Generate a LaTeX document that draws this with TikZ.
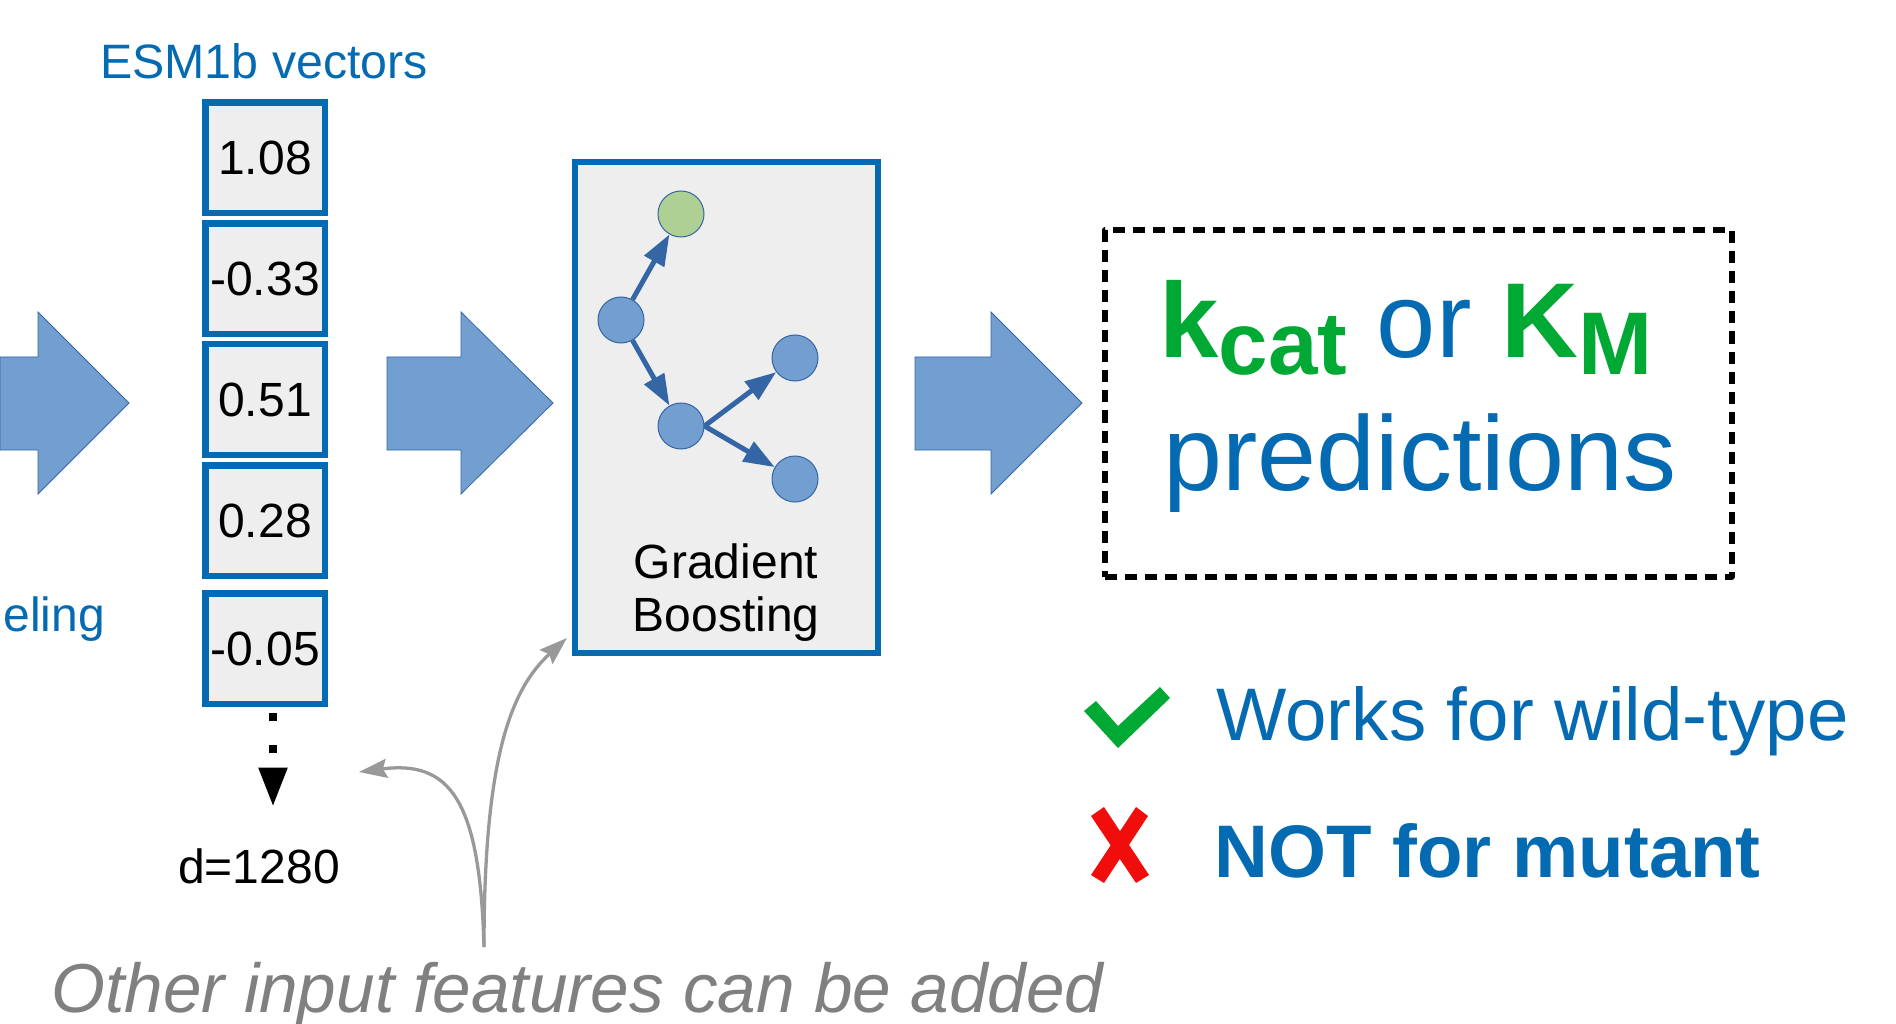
\documentclass[tikz,border=0pt]{standalone}
\usepackage{fontspec}
\setmainfont{Liberation Sans}
\usepackage{tikz}
\usetikzlibrary{
    arrows.meta,
    positioning,
    calc
}
\definecolor{esmblue}{RGB}{4, 106, 178}
\definecolor{arrowblue}{RGB}{114, 159, 207}
\definecolor{treeblue}{RGB}{52, 101, 164}
\definecolor{leafgreen}{RGB}{175, 208, 149}
\definecolor{okgreen}{RGB}{0, 169, 51}
\definecolor{nored}{RGB}{241, 13, 12}
\definecolor{cellgray}{RGB}{238, 238, 238}
\definecolor{notegray}{RGB}{128, 128, 128}
\definecolor{linegray}{RGB}{153, 153, 153}
\newcommand{\fsz}[1]{\fontsize{#1}{#1}\selectfont}
\tikzstyle{vecbox} = [
    draw=esmblue,
    line width=6.5pt,
    fill=cellgray,
    minimum width=119.5pt,
    minimum height=110.5pt,
    inner sep=0pt,
    font=\fsz{48}
]
\tikzstyle{blockarrow} = [
    fill=arrowblue,
    draw=treeblue,
    line width=0.8pt
]
\tikzstyle{leaf} = [
    circle,
    fill=arrowblue,
    draw=treeblue,
    line width=1pt,
    minimum size=46pt,
    inner sep=0pt
]
\tikzstyle{treearrow} = [
    -{Triangle[length=31pt,width=22pt]},
    draw=treeblue,
    line width=5pt
]
\tikzstyle{featarrow} = [
    -{Stealth[length=28pt,width=19pt,inset=4pt]},
    draw=linegray,
    line width=3.3pt
]

\begin{document}
\begin{tikzpicture}[x=1pt, y=-1pt]
    \useasboundingbox (0,0) rectangle (1896,1024);

    % Block arrows between the stages
    \filldraw[blockarrow] (0,357) -- (38,357) -- (38,312) -- (129,403) -- (38,494) -- (38,450) -- (0,450) -- cycle;
    \filldraw[blockarrow] (387,357) -- (461,357) -- (461,312) -- (553,403) -- (461,494) -- (461,450) -- (387,450) -- cycle;
    \filldraw[blockarrow] (915,357) -- (991,357) -- (991,312) -- (1082,403) -- (991,494) -- (991,450) -- (915,450) -- cycle;

    \node[anchor=base west, text=esmblue, font=\fsz{48}] (model) at (0,631) {eling};

    % Embedding vector
    \node[anchor=base, text=esmblue, font=\fsz{48.3}] (esm) at (264,79) {ESM1b vectors};
    \node[vecbox] (v1) at (265,158) {1.08};
    \node[vecbox] (v2) at (265,279) {-0.33};
    \node[vecbox] (v3) at (265,399.5) {0.51};
    \node[vecbox] (v4) at (265,520.5) {0.28};
    \node[vecbox] (v5) at (265,648.5) {-0.05};
    \node[anchor=base, font=\fsz{48}] (dim) at (259,883) {d=1280};
    \draw[line width=8pt, dash pattern=on 8pt off 24pt, shorten >=38pt,
        -{Triangle[length=39pt,width=27pt]}]
        ([xshift=8pt,yshift=-6pt]v5.south) -- ([xshift=14pt]dim.north);

    % Gradient boosting model
    \node[draw=esmblue, line width=6.5pt, fill=cellgray, minimum width=302.7pt,
        minimum height=490.9pt] (gb) at (726.5,407.3) {};
    \node[leaf] (root) at (621,320) {};
    \node[leaf, fill=leafgreen] (top) at (681,214) {};
    \node[leaf] (mid) at (681,426) {};
    \node[leaf] (up) at (795,358) {};
    \node[leaf] (low) at (795,479) {};
    \draw[treearrow] (root) -- (top);
    \draw[treearrow] (root) -- (mid);
    \draw[treearrow] (mid.east) -- (up);
    \draw[treearrow] (mid.east) -- (low);
    \node[anchor=base, font=\fsz{48}] (gbname) at (726,578) {Gradient};
    \node[anchor=base, font=\fsz{48}] (gbname2) at (726,631) {Boosting};

    % Output
    \node[draw, line width=6pt, line join=round, dash pattern=on 12pt off 8pt,
        minimum width=627pt, minimum height=346pt] (pred) at (1418,403.5) {};
    \node[anchor=base west, font=\fsz{106.5}] (kin) at (1156,358)
        {\textcolor{okgreen}{\bfseries k\raisebox{-17pt}{\fsz{89}cat}}
         \textcolor{esmblue}{or}
         \textcolor{okgreen}{\bfseries K\raisebox{-17pt}{\fsz{89}M}}};
    \node[anchor=base west, text=esmblue, font=\fsz{106}] (predtext) at (1160,490) {predictions};

    % Check and cross
    \fill[okgreen] (1084,711) -- (1096,701) -- (1118,726) -- (1160,687) -- (1170,698) -- (1118,748) -- cycle;
    \fill[nored] (1091,816) -- (1104,807) -- (1149,875) -- (1136,883) -- cycle;
    \fill[nored] (1136,807) -- (1148,816) -- (1104,883) -- (1091,875) -- cycle;
    \node[anchor=base west, text=esmblue, font=\fsz{74.5}] (wild) at (1213,740) {Works for wild-type};
    \node[anchor=base west, text=esmblue, font=\fsz{74.5}\bfseries] (mut) at (1211,877) {NOT for mutant};

    % Extra features
    \node[anchor=base west, text=notegray, font=\fsz{69.3}\itshape] (note) at (48,1012) {Other input features can be added};
    \coordinate (extra) at (484,947);
    \draw[featarrow] (extra) .. controls (484,760) and (510,690) .. ([xshift=-5pt,yshift=18pt]gb.south west);
    \draw[featarrow] (extra) .. controls (480,800) and (450,760) .. ([xshift=31pt,yshift=-65pt]v5.south east);
\end{tikzpicture}
\end{document}
